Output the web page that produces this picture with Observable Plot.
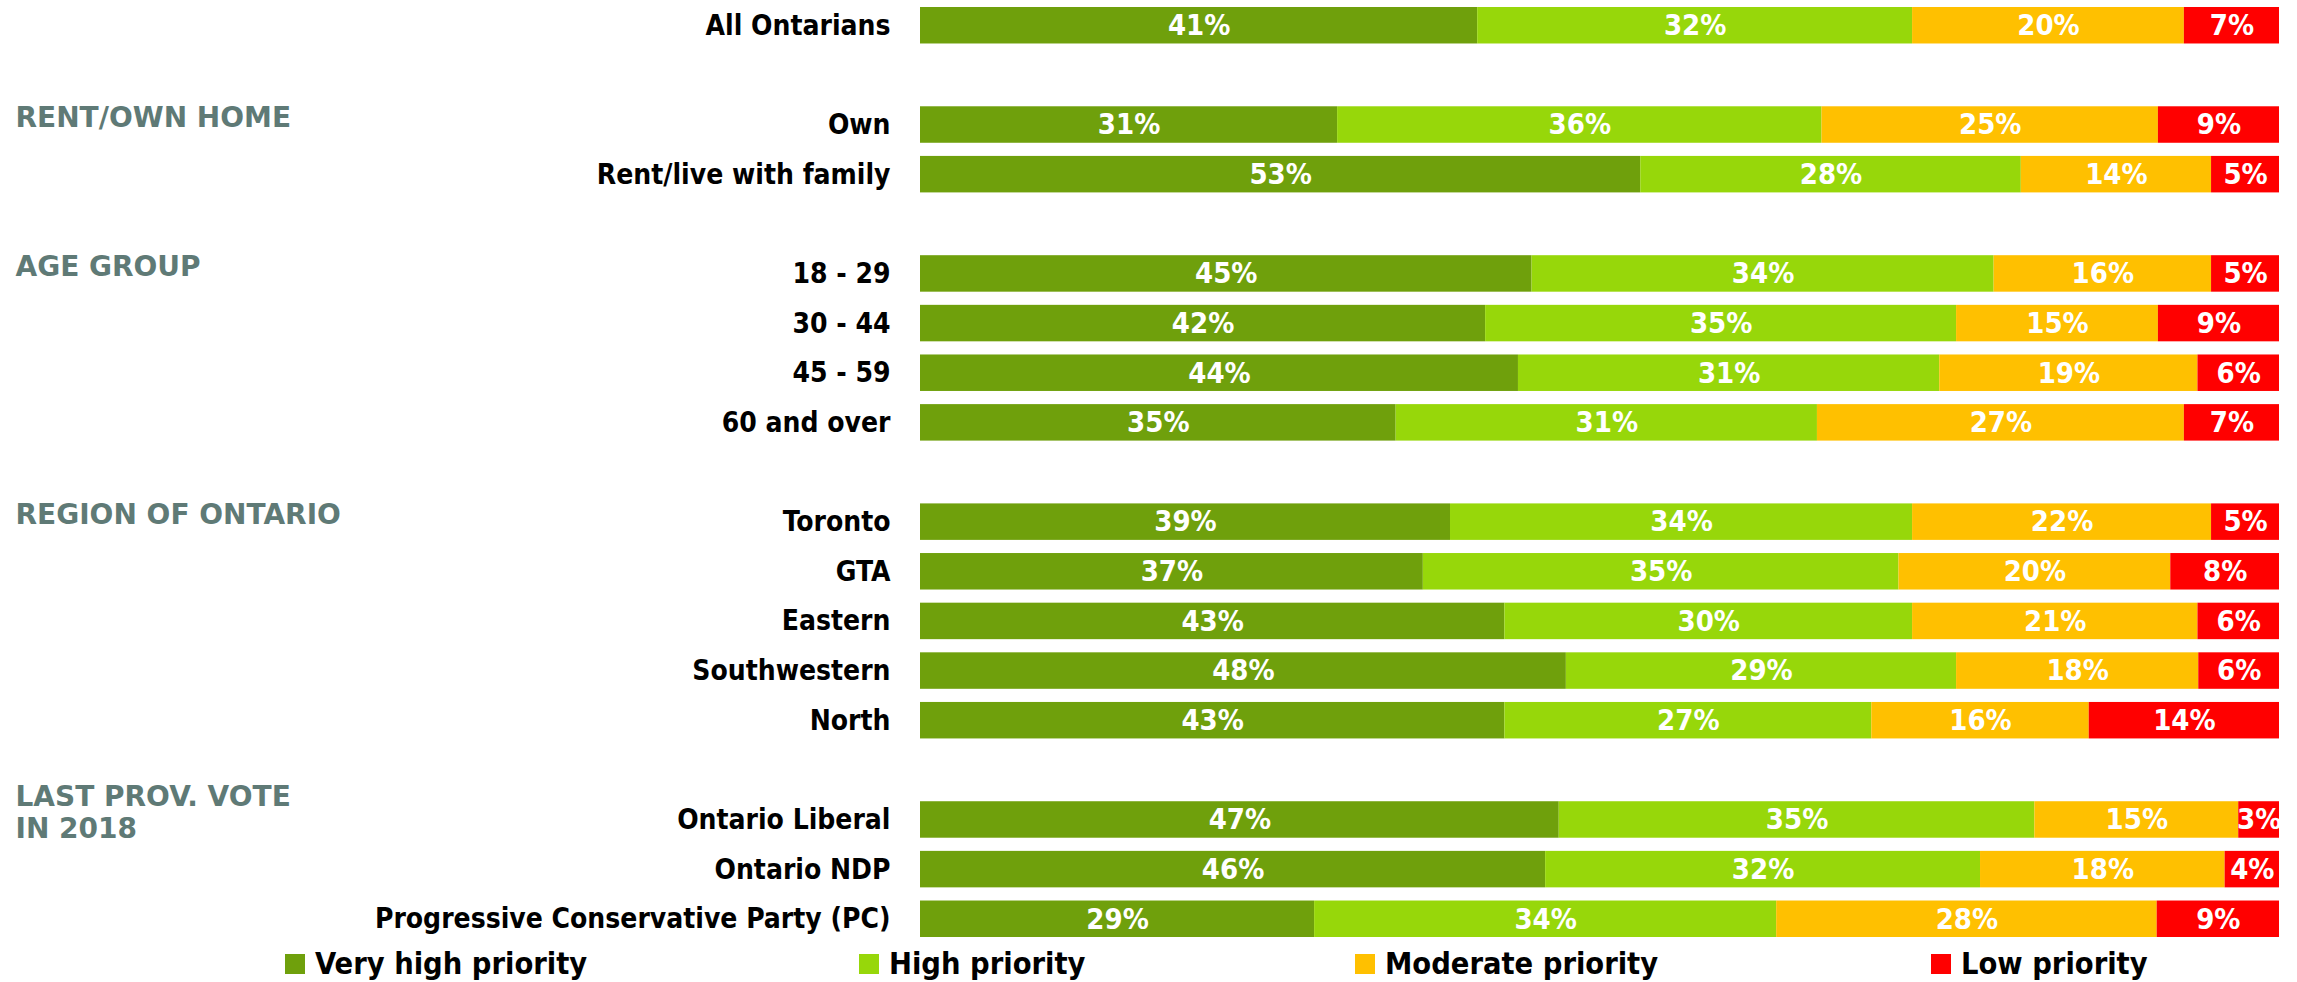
<!DOCTYPE html>
<html>
<head>
<meta charset="utf-8">
<script src="https://cdn.jsdelivr.net/npm/d3@7"></script>
<script src="https://cdn.jsdelivr.net/npm/@observablehq/plot@0.6"></script>
<style>
  body { margin: 0; background: #fff; }
  #chart { width: 2297px; }
  .legend { position: relative; width: 2297px; height: 37px; }
  .legend .item { position: absolute; top: 0; height: 37px; display: flex; align-items: center;
    font-family: 'DejaVu Sans Condensed', 'DejaVu Sans', sans-serif;
    font-weight: bold; font-size: 30.5px; color: #000; white-space: nowrap; }
  .legend .sw { width: 20px; height: 20px; margin-right: 10px; }
</style>
</head>
<body>
<div id="chart"></div>
<script>
// ---- data ----
const categories = ["All Ontarians", "Own", "Rent/live with family", "18 - 29", "30 - 44", "45 - 59", "60 and over",
  "Toronto", "GTA", "Eastern", "Southwestern", "North", "Ontario Liberal", "Ontario NDP", "Progressive Conservative Party (PC)"];
const groupTitles = ["", "RENT/OWN HOME", "AGE GROUP", "REGION OF ONTARIO", "LAST PROV. VOTE\nIN 2018"];
const groupSizes = [1, 2, 4, 5, 3];
const seriesNames = ["Very high priority", "High priority", "Moderate priority", "Low priority"];
const seriesColors = ["#6fa00c", "#97d70a", "#ffc000", "#ff0000"];
const veryHigh = [41, 31, 53, 45, 42, 44, 35, 39, 37, 43, 48, 43, 47, 46, 29];
const high     = [32, 36, 28, 34, 35, 31, 31, 34, 35, 30, 29, 27, 35, 32, 34];
const moderate = [20, 25, 14, 16, 15, 19, 27, 22, 20, 21, 18, 16, 15, 18, 28];
const low      = [7, 9, 5, 5, 9, 6, 7, 5, 8, 6, 6, 14, 3, 4, 9];

// ---- build ----
const seriesValues = [veryHigh, high, moderate, low];
const rows = categories.flatMap((c, i) => seriesNames.map((s, j) => ({category: c, series: s, value: seriesValues[j][i]})));

const yDomain = [];
const headers = [];
let k = 0;
groupSizes.forEach((n, g) => {
  if (g > 0) yDomain.push("gap" + g);
  if (groupTitles[g]) headers.push({title: groupTitles[g], first: categories[k]});
  for (let i = 0; i < n; i++) yDomain.push(categories[k++]);
});

const condensed = "'DejaVu Sans Condensed', 'DejaVu Sans', sans-serif";

const chart = Plot.plot({
  width: 2297,
  height: 945,
  marginLeft: 920,
  marginRight: 18,
  marginTop: 7,
  marginBottom: 8,
  style: {background: "white", fontFamily: condensed},
  x: {axis: null},
  y: {domain: yDomain, paddingInner: 0.265, paddingOuter: 0, round: false, label: null},
  color: {domain: seriesNames, range: seriesColors},
  marks: [
    Plot.barX(rows, Plot.stackX({x: "value", y: "category", fill: "series", offset: "normalize", order: seriesNames})),
    Plot.text(rows, Plot.stackX({x: "value", y: "category", z: "series", offset: "normalize", order: seriesNames,
      text: d => d.value + "%", fill: "white", fontSize: 29, fontWeight: "bold", fontFamily: condensed})),
    Plot.axisY({tickSize: 0, tickPadding: 30, label: null, tickFormat: d => d.startsWith("gap") ? "" : d,
      fontSize: 28, fontWeight: "bold", fontFamily: condensed, fill: "black"}),
    Plot.text(headers, {y: "first", text: "title", frameAnchor: "left", dx: -905, textAnchor: "start",
      lineAnchor: "middle", dy: -8, lineHeight: 1.15, fill: "#5f7a76", fontSize: 28, fontWeight: "bold",
      fontFamily: "'DejaVu Sans', sans-serif"})
  ]
});
document.getElementById("chart").appendChild(chart);

// ---- legend ----
const legendLeft = [285, 859, 1355, 1931];
const legend = document.createElement("div");
legend.className = "legend";
seriesNames.forEach((s, i) => {
  const item = document.createElement("div");
  item.className = "item";
  item.style.left = legendLeft[i] + "px";
  const sw = document.createElement("span");
  sw.className = "sw";
  sw.style.background = seriesColors[i];
  item.appendChild(sw);
  item.appendChild(document.createTextNode(s));
  legend.appendChild(item);
});
document.getElementById("chart").appendChild(legend);
</script>
</body>
</html>
